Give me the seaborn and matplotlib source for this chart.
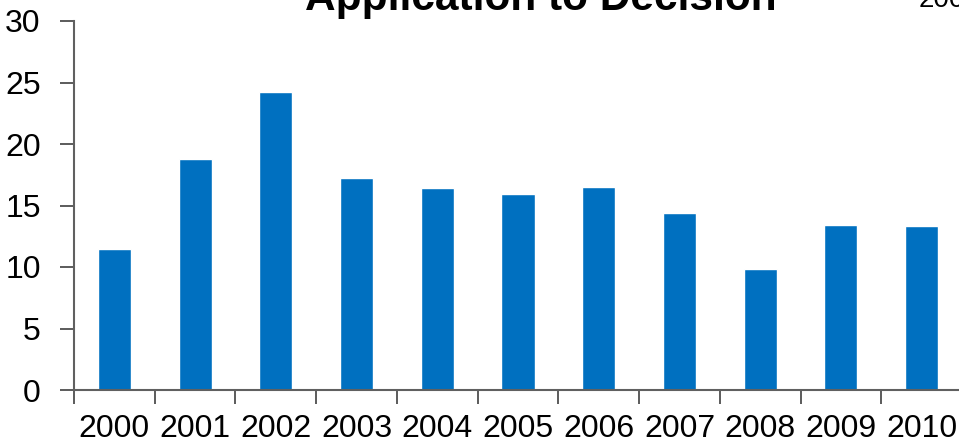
import matplotlib
matplotlib.use("Agg")
import matplotlib.pyplot as plt
import seaborn as sns
import pandas as pd
import numpy as np

years = ["2000", "2001", "2002", "2003", "2004", "2005",
         "2006", "2007", "2008", "2009", "2010"]
months = [11.5, 18.8, 24.2, 17.2, 16.4, 15.9, 16.5, 14.4, 9.8, 13.4, 13.3]
y_ticks = [0, 5, 10, 15, 20, 25, 30]
title_text = "Application to Decision"
range_text = "2000-2010"

sns.set_theme(style="white")
plt.rcParams["font.family"] = ["Liberation Sans", "DejaVu Sans"]

df = pd.DataFrame({"year": years, "months": months})

fig = plt.figure(figsize=(9.59, 4.45), dpi=100)
ax = fig.add_axes([74 / 959, 55 / 445, 888 / 959, 369 / 445])

sns.barplot(data=df, x="year", y="months", color="#0070C0",
            saturation=1, width=0.41, ax=ax)

ax.set_xlim(-0.5, len(years) - 0.5)
ax.set_ylim(0, 30)
ax.set_yticks(y_ticks)
ax.set_yticklabels([str(v) for v in y_ticks], fontsize=23)

# category boundaries carry the tick marks, centres carry the labels
ax.set_xticks(np.arange(-0.5, len(years) + 0.5, 1.0))
ax.set_xticklabels([])
ax.set_xticks(np.arange(len(years)), minor=True)
ax.set_xticklabels(years, minor=True, fontsize=23)
ax.tick_params(axis="x", which="major", direction="out", length=10,
               width=1.2, color="#404040", bottom=True)
ax.tick_params(axis="x", which="minor", length=0, pad=17, labelcolor="black")
ax.tick_params(axis="y", direction="out", length=10, width=1.2,
               color="#404040", pad=14, left=True, labelcolor="black")

for side in ["top", "right"]:
    ax.spines[side].set_visible(False)
for side in ["left", "bottom"]:
    ax.spines[side].set_color("#606060")
    ax.spines[side].set_linewidth(1.5)

ax.set_xlabel("")
ax.set_ylabel("")

fig.text(541 / 959, 1 - 10 / 445, title_text, ha="center", va="baseline",
         fontsize=30.5, fontweight="bold", color="black")
fig.text(919 / 959, 1 - 7 / 445, range_text, ha="left", va="baseline",
         fontsize=20, color="black")

fig.savefig("out.png", dpi=100)
